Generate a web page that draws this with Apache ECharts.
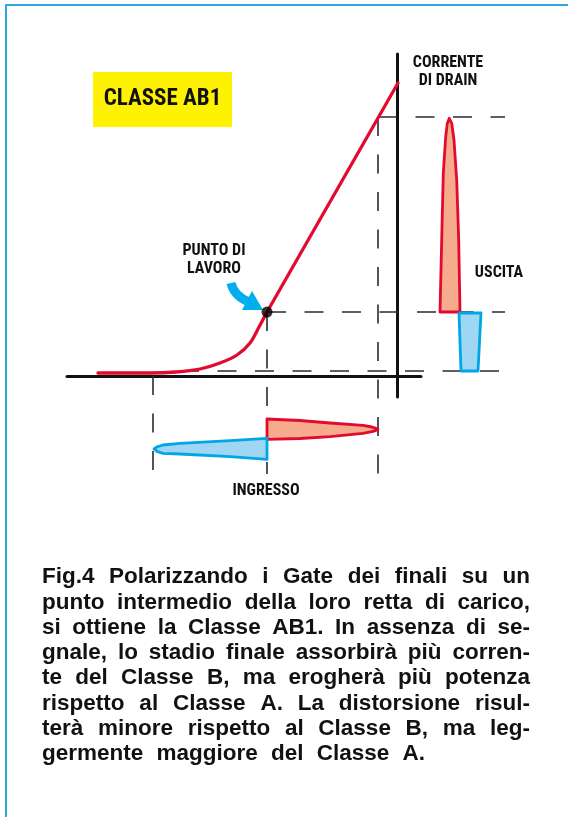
<!DOCTYPE html>
<html><head><meta charset="utf-8">
<script src="https://cdn.jsdelivr.net/npm/echarts@6/dist/echarts.min.js"></script>
<style>html,body{margin:0;padding:0;background:#fff}#c{width:568px;height:817px}</style>
</head><body><div id="c"></div>
<script>
// ---- data (units: x = gate voltage offset, y = drain current) ----
const transferCurve = [[-299,3],[-247,3],[-221,4],[-197,7],[-177,13],[-160,21],[-147,33],[-138,49],[-130,64]];
const transferLinear = [[-130,64],[1,293]];
const workingPoint = [[-130,64]];
const inputPositive = [[-130,-43],[-97,-44.5],[-67,-47],[-34,-49.3],[-25,-51],[-21,-52.3],[-19,-53.3],[-21,-54.3],[-25,-55.6],[-34,-57.3],[-67,-60.7],[-97,-62.5],[-130,-63.3]];
const inputNegative = [[-130,-62.3],[-167,-64.7],[-217,-67.3],[-234,-69],[-240,-70.8],[-243,-73],[-240,-75.3],[-234,-77.3],[-217,-78],[-167,-80.7],[-130,-83.3]];
const outputPositive = [[43,64],[44.7,136],[46.3,203],[48.7,239.3],[50.3,252.7],[52.3,257.7],[54.7,252.7],[57,236],[59.7,196],[61.7,136],[63,64]];
const outputNegative = [[62,63],[84,63],[81,5],[64,5]];
// guide lines: [x1, y1, x2, y2]
const guideLines = [
  [-19, 259, 108, 259],
  [-130, 64, 108, 64],
  [-217, 5, 108, 5],
  [-19, 259, -19, -98],
  [-130, 64, -130, -98],
  [-244, 0, -244, -96]
];
const titleText = 'CLASSE AB1';
const axisLabelY = ['CORRENTE','DI DRAIN'];
const pointLabel = ['PUNTO DI','LAVORO'];
const outputLabel = 'USCITA';
const inputLabel = 'INGRESSO';
const captionLines = [
  'Fig.4 Polarizzando i Gate dei finali su un',
  'punto intermedio della loro retta di carico,',
  'si ottiene la Classe AB1. In assenza di se-',
  'gnale, lo stadio finale assorbirà più corren-',
  'te del Classe B, ma erogherà più potenza',
  'rispetto al Classe A. La distorsione risul-',
  'terà minore rispetto al Classe B, ma leg-',
  'germente maggiore del Classe A.'
];

const RED = '#e30a2f', RED_FILL = '#f7ab8d', BLUE = '#00a6e6', BLUE_FILL = '#9ed6f4';
const NARROW = '"Liberation Sans Narrow","Roboto Condensed","DejaVu Sans Condensed",sans-serif';

function polygonSeries(points, stroke, fill) {
  return {
    type: 'custom', coordinateSystem: 'cartesian2d', clip: false, silent: true,
    encode: {x: 0, y: 1}, data: points, z: 3,
    renderItem: function (params, api) {
      if (params.dataIndex !== 0) return {type: 'group', children: []};
      return {type: 'polygon', shape: {points: points.map(p => api.coord(p))},
        style: {fill: fill, stroke: stroke, lineWidth: 2.8, lineJoin: 'round'}};
    }
  };
}

const series = [];
series.push({
  type: 'custom', coordinateSystem: 'cartesian2d', clip: false, silent: true, z: 1,
  encode: {x: [0, 2], y: [1, 3]}, data: guideLines,
  renderItem: function (params, api) {
    const a = api.coord([api.value(0), api.value(1)]);
    const b = api.coord([api.value(2), api.value(3)]);
    return {type: 'line', shape: {x1: a[0], y1: a[1], x2: b[0], y2: b[1]},
      style: {stroke: '#2b2b2b', lineWidth: 1.6, lineDash: [19, 18.5]}};
  }
});
series.push({type: 'line', data: transferCurve, symbol: 'none', smooth: 0.3, clip: false, z: 4,
  lineStyle: {color: RED, width: 3.3, cap: 'round'}});
series.push({type: 'line', data: transferLinear, symbol: 'none', clip: false, z: 4,
  lineStyle: {color: RED, width: 3.3, cap: 'round'}});
series.push(polygonSeries(inputPositive, RED, RED_FILL));
series.push(polygonSeries(inputNegative, BLUE, BLUE_FILL));
series.push(polygonSeries(outputPositive, RED, RED_FILL));
series.push(polygonSeries(outputNegative, BLUE, BLUE_FILL));
series.push({type: 'scatter', data: workingPoint, symbolSize: 11, itemStyle: {color: '#000'}, z: 6, clip: false});

// caption, justified
const capFont = 'bold 22.5px "Liberation Sans", Arial, sans-serif';
const ctx = document.createElement('canvas').getContext('2d');
ctx.font = capFont;
const capLeft = 42, capRight = 530, capTop = 577, capStep = 25.3;
const graphics = [
  {type: 'rect', shape: {x: 6, y: 5, width: 700, height: 900}, style: {fill: 'none', stroke: '#2ea9df', lineWidth: 2}, silent: true},
  {type: 'rect', shape: {x: 93, y: 72, width: 139, height: 55}, style: {fill: '#fff200'}},
  {type: 'text', style: {text: titleText, x: 162.5, y: 99, textAlign: 'center', textVerticalAlign: 'middle', font: 'bold 23px ' + NARROW, fill: '#111'}},
  {type: 'text', style: {text: axisLabelY.join('\n'), x: 448, y: 71.5, lineHeight: 18, textAlign: 'center', textVerticalAlign: 'middle', font: 'bold 16px ' + NARROW, fill: '#111'}},
  {type: 'text', style: {text: pointLabel.join('\n'), x: 214, y: 260, lineHeight: 18, textAlign: 'center', textVerticalAlign: 'middle', font: 'bold 16px ' + NARROW, fill: '#111'}},
  {type: 'text', style: {text: outputLabel, x: 499, y: 272.5, textAlign: 'center', textVerticalAlign: 'middle', font: 'bold 16px ' + NARROW, fill: '#111'}},
  {type: 'text', style: {text: inputLabel, x: 266, y: 491, textAlign: 'center', textVerticalAlign: 'middle', font: 'bold 16px ' + NARROW, fill: '#111'}},
  {type: 'bezierCurve', shape: {x1: 231, y1: 283, cpx1: 234, cpy1: 296, x2: 249, y2: 302}, style: {stroke: '#00aeef', lineWidth: 9, fill: 'none'}},
  {type: 'polygon', shape: {points: [[252, 291], [263, 310], [242, 310]]}, style: {fill: '#00aeef'}}
];
const layout = captionLines.map(line => {
  const words = line.split(' ');
  const widths = words.map(w => ctx.measureText(w).width);
  const total = widths.reduce((a, b) => a + b, 0);
  return {words, widths, gap: (capRight - capLeft - total) / (words.length - 1)};
});
const justified = layout.slice(0, -1);
const meanGap = justified.reduce((a, l) => a + l.gap, 0) / justified.length;
layout.forEach((l, i) => {
  const y = capTop + i * capStep;
  const gap = i === layout.length - 1 ? meanGap : l.gap;
  let x = capLeft;
  l.words.forEach((w, k) => {
    graphics.push({type: 'text', style: {text: w, x: x, y: y, textVerticalAlign: 'middle', font: capFont, fill: '#111'}});
    x += l.widths[k] + gap;
  });
});

const chart = echarts.init(document.getElementById('c'), null, {renderer: 'canvas'});
chart.setOption({
  animation: false,
  backgroundColor: '#fff',
  grid: {left: 67, right: 147, top: 54, bottom: 420},
  xAxis: {type: 'value', min: -330, max: 24, axisLine: {show: true, onZero: true, lineStyle: {color: '#111', width: 3}},
    axisTick: {show: false}, axisLabel: {show: false}, splitLine: {show: false}},
  yAxis: {type: 'value', min: -21, max: 322, axisLine: {show: true, onZero: true, lineStyle: {color: '#111', width: 3}},
    axisTick: {show: false}, axisLabel: {show: false}, splitLine: {show: false}},
  series: series,
  graphic: graphics
});
</script></body></html>
